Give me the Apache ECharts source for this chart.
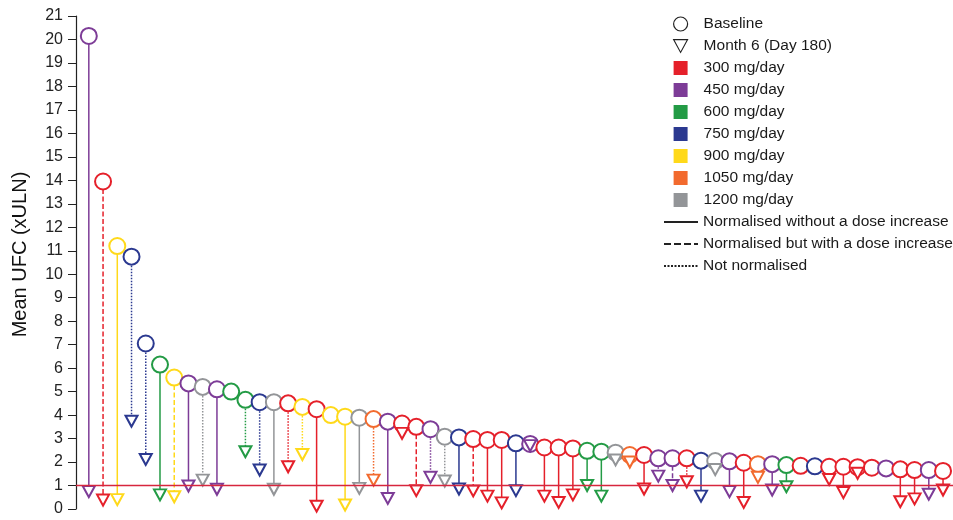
<!DOCTYPE html>
<html>
<head>
<meta charset="utf-8">
<script src="https://cdn.jsdelivr.net/npm/echarts@6/dist/echarts.min.js"></script>
<style>
  html, body { margin: 0; padding: 0; background: #fff; }
  #chart { width: 953px; height: 520px; }
</style>
</head>
<body>
<div id="chart"></div>
<script>
// one entry per patient, sorted by baseline UFC
var baseline = [20.15, 13.95, 11.2, 10.75, 7.05, 6.15, 5.6, 5.35, 5.2, 5.1,
  5.0, 4.65, 4.55, 4.55, 4.5, 4.35, 4.25, 4.0, 3.93, 3.89,
  3.83, 3.72, 3.64, 3.5, 3.4, 3.08, 3.05, 2.98, 2.94, 2.94,
  2.8, 2.77, 2.62, 2.62, 2.58, 2.48, 2.44, 2.4, 2.3, 2.3,
  2.16, 2.16, 2.16, 2.06, 2.04, 2.03, 1.97, 1.91, 1.91, 1.87,
  1.84, 1.82, 1.8, 1.8, 1.78, 1.76, 1.73, 1.69, 1.66, 1.66, 1.62];
var month6 = [0.74, 0.38, 0.4, 3.74, 2.11, 0.6, 0.52, 0.98, 1.23, 0.84,
  null, 2.44, 1.66, 0.84, 1.8, 2.32, 0.12, null, 0.17, 0.88,
  1.23, 0.45, 3.22, 0.78, 1.35, 1.19, 0.85, 0.77, 0.55, 0.26,
  0.78, 2.7, 0.55, 0.28, 0.6, 1.0, 0.55, 2.09, 2.0, 0.85,
  1.4, 1.0, 1.16, 0.55, 1.68, 0.74, 0.28, 1.35, 0.81, 0.95,
  null, null, 1.26, 0.7, 1.52, null, null, 0.31, 0.43, 0.63, 0.81];
var dose = [450, 300, 900, 750, 750, 600, 900, 450, 1200, 450,
  600, 600, 750, 1200, 300, 900, 300, 900, 900, 1200,
  1050, 450, 300, 300, 450, 1200, 750, 300, 300, 300,
  750, 450, 300, 300, 300, 600, 600, 1200, 1050, 300,
  450, 450, 300, 750, 1200, 450, 300, 1050, 450, 600,
  300, 750, 300, 300, 300, 300, 450, 300, 300, 450, 300];
// S = normalised without dose increase, D = normalised with dose increase, O = not normalised
var lineKind = ['S', 'D', 'S', 'O', 'O', 'S', 'D', 'S', 'O', 'S',
  '', 'O', 'O', 'S', 'O', 'O', 'S', '', 'S', 'S',
  'O', 'S', 'O', 'D', 'O', 'O', 'S', 'D', 'S', 'S',
  'S', 'O', 'S', 'S', 'S', 'S', 'S', 'O', 'O', 'S',
  'O', 'D', 'O', 'S', 'O', 'S', 'S', 'O', 'S', 'S',
  '', '', 'O', 'S', 'O', '', '', 'S', 'S', 'S', 'S'];

var doseLevels = [300, 450, 600, 750, 900, 1050, 1200];
var doseColors = ['#E5202A', '#7D3C97', '#239B45', '#2B3990', '#FFD91A', '#F26A2E', '#939598'];
var dashes = { S: 'solid', D: [5, 2.5], O: [1.5, 1.5] };
var kindNames = {
  S: 'Normalised without a dose increase',
  D: 'Normalised but with a dose increase',
  O: 'Not normalised'
};
var font = 'Liberation Sans, Arial, sans-serif';

function colorOf(i) {
  return doseColors[doseLevels.indexOf(dose[i])];
}

var series = [
  {
    type: 'line', name: 'ref', data: [], silent: true, z: 1,
    markLine: {
      silent: true, symbol: ['none', 'none'], label: { show: false },
      lineStyle: { color: '#D7263D', width: 1.3, type: 'solid' },
      data: [{ yAxis: 1 }]
    }
  }
];

var circles = [], triangles = [];
baseline.forEach(function (b, i) {
  var c = colorOf(i);
  circles.push({ value: [i + 1, b], itemStyle: { color: c, borderColor: c } });
  if (month6[i] != null) {
    triangles.push({ value: [i + 1, month6[i]], itemStyle: { color: c, borderColor: c } });
    // connector from baseline to month 6
    series.push({
      type: 'line', name: 'p' + (i + 1), silent: true, z: 2,
      data: [[i + 1, b], [i + 1, month6[i]]],
      symbol: 'none',
      lineStyle: { color: c, width: 1.5, type: dashes[lineKind[i]] }
    });
  }
});

series.push(
  {
    type: 'scatter', name: 'circles', data: circles, symbol: 'emptyCircle', z: 3,
    symbolSize: 16, itemStyle: { borderWidth: 1.5, opacity: 1 }, silent: true
  },
  {
    type: 'scatter', name: 'triangles', data: triangles, symbol: 'emptyTriangle', z: 4,
    symbolRotate: 180, symbolSize: [12, 11], itemStyle: { borderWidth: 1.4, opacity: 1 }, silent: true
  },
  // legend-only entries
  { type: 'scatter', name: 'Baseline', data: [], symbol: 'circle', itemStyle: { color: '#222', opacity: 1 } },
  { type: 'scatter', name: 'Month 6 (Day 180)', data: [], symbol: 'triangle', itemStyle: { color: '#222', opacity: 1 } }
);
doseLevels.forEach(function (d, k) {
  series.push({ type: 'scatter', name: d + ' mg/day', data: [], itemStyle: { color: doseColors[k], opacity: 1 } });
});
['S', 'D', 'O'].forEach(function (s) {
  series.push({
    type: 'line', name: kindNames[s], data: [], symbol: 'none', showSymbol: false,
    lineStyle: { color: '#222', width: 1.2, type: s === 'S' ? 'solid' : (s === 'D' ? [7, 3] : [2, 1.5]) },
    itemStyle: { color: '#222' }
  });
});

var legendText = { fontSize: 15.5, color: '#1a1a1a', fontFamily: font };
var legend1Data = [
  { name: 'Baseline', icon: 'circle', itemStyle: { color: '#fff', borderColor: '#222', borderWidth: 1.2 } },
  { name: 'Month 6 (Day 180)', icon: 'path://M0,0 L12,0 L6,11 Z',
    itemStyle: { color: '#fff', borderColor: '#222', borderWidth: 1.1 } }
];
doseLevels.forEach(function (d, k) {
  legend1Data.push({ name: d + ' mg/day', icon: 'rect', itemStyle: { color: doseColors[k], opacity: 1 } });
});
var legend2Data = ['S', 'D', 'O'].map(function (s) {
  return { name: kindNames[s], itemStyle: { opacity: 0 } };
});

var chart = echarts.init(document.getElementById('chart'));
chart.setOption({
  animation: false,
  backgroundColor: '#fff',
  textStyle: { fontFamily: font },
  grid: { left: 76, right: 0, top: 16, bottom: 11 },
  legend: [
    {
      orient: 'vertical', left: 673, top: 16, padding: 0, itemWidth: 14, itemHeight: 14, itemGap: 6,
      selectedMode: false, data: legend1Data,
      textStyle: Object.assign({ padding: [0, 0, 0, 11] }, legendText)
    },
    {
      orient: 'vertical', left: 663, top: 214, padding: 0, itemWidth: 34, itemHeight: 14, itemGap: 6,
      selectedMode: false, data: legend2Data,
      textStyle: legendText
    }
  ],
  xAxis: {
    type: 'value', min: 0.1, max: 61.7, show: false
  },
  yAxis: {
    type: 'value', min: 0, max: 21, interval: 1,
    name: 'Mean UFC (xULN)', nameLocation: 'middle', nameGap: 46,
    nameTextStyle: { fontSize: 20, color: '#111', padding: [0, 0, 0, 16] },
    axisLine: { show: true, lineStyle: { color: '#222', width: 1.2 } },
    axisTick: { show: true, length: 8, lineStyle: { color: '#222' } },
    axisLabel: { fontSize: 16, color: '#222', margin: 13 },
    splitLine: { show: false }
  },
  series: series
});
</script>
</body>
</html>
